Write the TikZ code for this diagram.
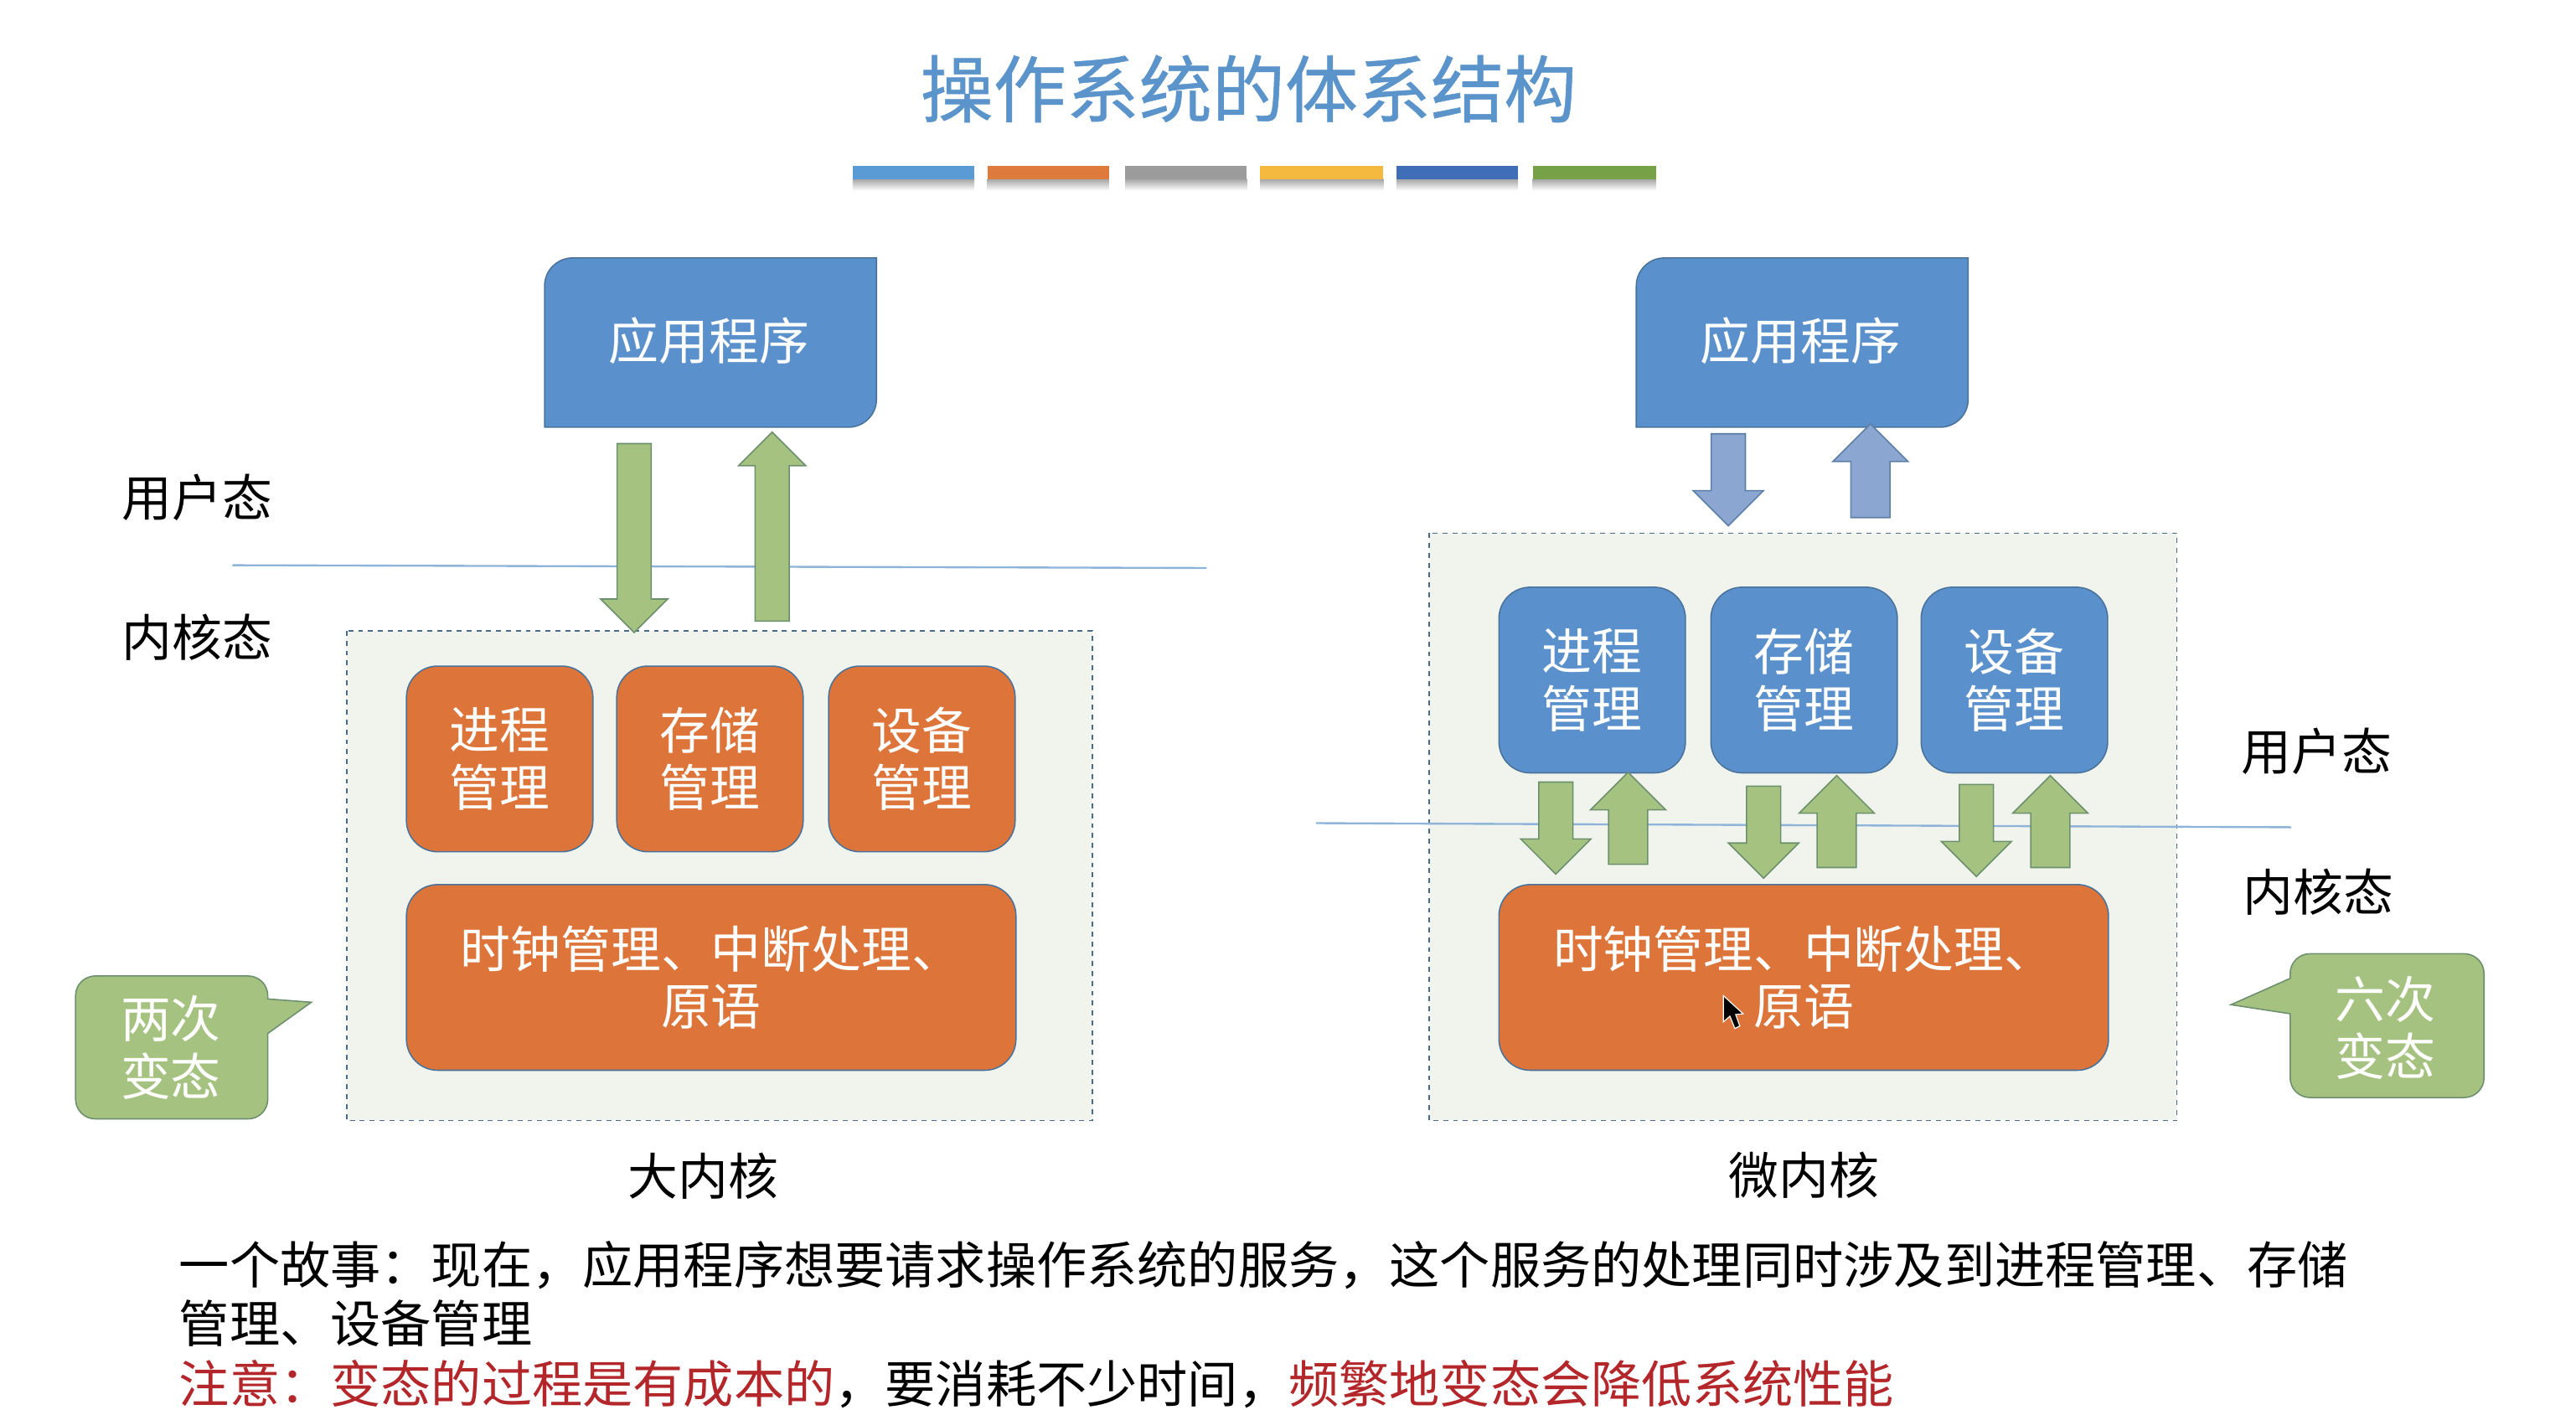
\documentclass[tikz,border=0pt]{standalone}
\usepackage{fontspec}
\setmainfont{Noto Sans CJK SC}
\newfontfamily\titlefont[FakeBold=0.6]{Noto Sans CJK SC}
\usepackage{xcolor}
\usetikzlibrary{shapes.arrows}
\definecolor{titleblue}{HTML}{5B94CB}
\definecolor{boxblue}{HTML}{5A90CB}
\definecolor{boxorange}{HTML}{DD743A}
\definecolor{boxline}{HTML}{4A739C}
\definecolor{kernelbg}{HTML}{F1F4ED}
\definecolor{kernelline}{HTML}{4A6A8A}
\definecolor{arrowgreen}{HTML}{A5C280}
\definecolor{greenline}{HTML}{6C8F6E}
\definecolor{arrowblue}{HTML}{8CA6D2}
\definecolor{blueline}{HTML}{5C7FA6}
\definecolor{splitline}{HTML}{8FB4DA}
\definecolor{notered}{HTML}{B3262A}

\begin{document}
\begin{tikzpicture}[x=1pt,y=-1pt,
    every node/.style={font=\fontsize{30.5}{35}\selectfont,align=center},
    kernel/.style={draw=kernelline,fill=kernelbg,dashed,line width=0.8pt},
    orangebox/.style={draw=boxline,fill=boxorange,rounded corners=19pt,line width=0.8pt},
    bluebox/.style={draw=boxline,fill=boxblue,rounded corners=19pt,line width=0.8pt},
    appshape/.style={draw=boxline,fill=boxblue,line width=0.8pt},
    callout/.style={draw=greenline,fill=arrowgreen,line width=0.8pt},
    boxtext/.style={text=white},
    modeline/.style={draw=splitline,line width=1.2pt},
    barrow/.style={single arrow,anchor=tip,inner sep=10pt,outer sep=0pt,line width=0.8pt,
      single arrow head extend=11pt,minimum width=42pt},
    greenarrow/.style={barrow,draw=greenline,fill=arrowgreen},
    bluearrow/.style={barrow,draw=blueline,fill=arrowblue},
    storytext/.style={anchor=west,font=\fontsize{30.7}{35}\selectfont}]
  \useasboundingbox (0,0) rectangle (1568,857.7);

  % 标题
  \node[text=titleblue,font=\fontsize{44.4}{50}\titlefont] (title) at (760,54) {操作系统的体系结构};
  \foreach \x/\w/\c in {519/74/5B9BD5,601/74/DD7A3C,685/74/9C9C9C,767/75/F4B93E,850/74/3F6DB8,933/75/76A146} {
    \definecolor{barcolor}{HTML}{\c}
    \shade[top color=black!35,bottom color=white] (\x,109) rectangle ++(\w,7);
    \fill[barcolor] (\x,101) rectangle ++(\w,8);
  }

  % 虚线框
  \draw[kernel] (211,384) rectangle (665,682);
  \draw[kernel] (870,324.5) rectangle (1325,682);

  % 状态分界线
  \draw[modeline] (141.5,344) -- (734.5,345.7);
  \draw[modeline] (801,501) -- (1394.5,503.5);

  % 应用程序
  \foreach \x/\n in {331.5/L,996/R} {
    \draw[appshape] (\x+202,157) -- (\x+202,243) [rounded corners=17pt] -- (\x+202,260) [sharp corners] -- (\x,260)
      -- (\x,174) [rounded corners=17pt] -- (\x,157) [sharp corners] -- cycle;
    \node[boxtext] (app\n) at (\x+100,207.5) {应用程序};
  }

  % 大内核
  \foreach \x/\n/\t in {247/proc/进程,375/mem/存储,504/dev/设备} {
    \node[orangebox,boxtext,minimum width=113.5pt,minimum height=113pt,anchor=north west] (\n L) at (\x,405) {\t\\管理};
  }
  \node[orangebox,boxtext,minimum width=371pt,minimum height=113pt,anchor=north west] (coreL) at (247,538) {时钟管理、中断处理、\\原语};
  \node[greenarrow,rotate=270,minimum height=115pt,single arrow head extend=10pt,minimum width=40pt] (downL) at (386,385) {};
  \node[greenarrow,rotate=90,minimum height=115pt,single arrow head extend=10pt,minimum width=40pt] (upL) at (470,263) {};

  % 微内核
  \foreach \x/\n/\t in {912/proc/进程,1041/mem/存储,1169/dev/设备} {
    \node[bluebox,boxtext,minimum width=113.5pt,minimum height=113pt,anchor=north west] (\n R) at (\x,357) {\t\\管理};
  }
  \node[orangebox,boxtext,minimum width=371pt,minimum height=113pt,anchor=north west] (coreR) at (912,538) {时钟管理、中断处理、\\原语};
  \node[bluearrow,rotate=270,minimum height=56pt] (downR) at (1052,320) {};
  \node[bluearrow,rotate=90,minimum height=57pt,inner sep=11.5pt] (upR) at (1138.5,258) {};
  \foreach \n/\x/\y in {1/947/532,2/1073.5/534.5,3/1203/533.5} {
    \node[greenarrow,rotate=270,minimum height=56pt] (down\n) at (\x,\y) {};
  }
  \foreach \n/\x/\y in {1/991/470,2/1118/472,3/1248/472} {
    \node[greenarrow,rotate=90,minimum height=56pt,inner sep=11.5pt] (up\n) at (\x,\y) {};
  }

  % 变态次数
  \draw[callout] (163,608) -- (189.5,610) -- (163,629) [rounded corners=12pt] -- (163,681) -- (46,681) -- (46,594) -- (163,594) [sharp corners] -- cycle;
  \node[boxtext] (twice) at (104,637.5) {两次\\变态};
  \draw[callout] (1394,595.5) -- (1358,611.5) -- (1394,617) [rounded corners=12pt] -- (1394,668) -- (1512,668) -- (1512,580.5) -- (1394,580.5) [sharp corners] -- cycle;
  \node[boxtext] (sixtimes) at (1452,625.5) {六次\\变态};

  % 文字
  \foreach \n/\x/\y/\t in {userL/120/303/用户态,kernelL/120/388/内核态,userR/1410/457.5/用户态,kernelR/1411/543/内核态,bigname/428/716/大内核,microname/1098/715/微内核} {
    \node (\n) at (\x,\y) {\t};
  }
  \node[storytext] (story1) at (105.5,770) {一个故事：现在，应用程序想要请求操作系统的服务，这个服务的处理同时涉及到进程管理、存储};
  \node[storytext] (story2) at (105.5,805.5) {管理、设备管理};
  \node[storytext] (note) at (105.5,842.5) {\textcolor{notered}{注意：变态的过程是有成本的}，要消耗不少时间，\textcolor{notered}{频繁地变态会降低系统性能}};

  % 鼠标
  \draw[white,fill=black,line width=0.6pt] (1049,606) -- (1049,622) -- (1053,618.5) -- (1056,626) -- (1059,624.5) -- (1056.5,617.5) -- (1061,617) -- cycle;
\end{tikzpicture}
\end{document}
